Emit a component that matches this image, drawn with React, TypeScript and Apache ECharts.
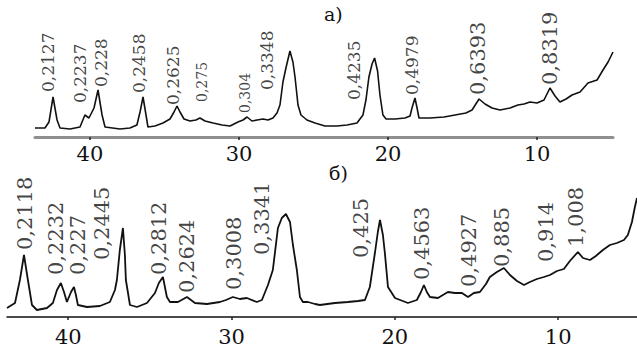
import React, { useEffect, useRef } from "react";
import * as echarts from "echarts";

// ---------- data: panel а) ----------
const patternA: [number, number][] = [
  [43.69, 9], [43.02, 9], [42.75, 15], [42.48, 40], [42.21, 17], [42.01, 9], [41.34, 8], [40.67, 10],
  [40.34, 22], [40.07, 19], [39.73, 29], [39.46, 47], [39.19, 22], [38.99, 10], [37.99, 8], [37.32, 9],
  [36.85, 12], [36.64, 25], [36.44, 40], [36.24, 22], [36.11, 10], [35.64, 11], [35.1, 14], [34.63, 18],
  [34.36, 25], [34.16, 31], [33.96, 25], [33.69, 18], [33.29, 16], [32.89, 17], [32.62, 19], [32.28, 16],
  [31.74, 14], [31.14, 12], [30.6, 11], [30.07, 15], [29.73, 17], [29.46, 20], [29.13, 16], [28.79, 17],
  [28.39, 18], [28.05, 17], [27.72, 19], [27.45, 24], [27.25, 32], [27.05, 55], [26.85, 69], [26.58, 86],
  [26.38, 75], [26.24, 60], [26.04, 32], [25.84, 22], [25.44, 17], [24.9, 14], [24.23, 11], [23.42, 11],
  [22.75, 12], [22.08, 14], [21.68, 22], [21.48, 37], [21.28, 60], [21.07, 73], [20.9, 79], [20.7, 66],
  [20.54, 42], [20.34, 22], [20.13, 18], [19.53, 18], [18.86, 19], [18.52, 21], [18.39, 29], [18.19, 39],
  [18.05, 29], [17.92, 19], [17.18, 19], [16.24, 20], [15.5, 22], [14.77, 24], [14.36, 27], [13.89, 38],
  [13.49, 33], [13.02, 29], [12.48, 27], [11.81, 29], [11.28, 32], [10.87, 33], [10.47, 35], [10.0, 34],
  [9.53, 37], [9.13, 49], [8.79, 41], [8.46, 35], [8.05, 38], [7.65, 42], [7.11, 45], [6.58, 54],
  [5.97, 57], [5.57, 67], [5.23, 75], [4.9, 85],
];
const peakNamesA = ["0,2127", "0,2237", "0,228", "0,2458", "0,2625", "0,275", "0,304", "0,3348", "0,4235", "0,4979", "0,6393", "0,8319"];
const peakAnchorsA: [number, number][] = [
  [42.82, 45], [40.67, 34], [39.26, 50], [36.71, 44], [34.43, 32], [32.48, 35], [29.6, 24], [28.12, 47],
  [22.28, 37], [18.39, 42], [13.96, 42], [9.13, 52],
];

// ---------- data: panel б) ----------
const patternB: [number, number][] = [
  [43.75, 9], [43.26, 14], [42.96, 37], [42.71, 62], [42.47, 37], [42.22, 12], [41.92, 7], [41.3, 9],
  [40.94, 14], [40.69, 27], [40.45, 34], [40.26, 25], [40.08, 15], [39.83, 25], [39.65, 30], [39.53, 22],
  [39.41, 12], [38.85, 10], [38.06, 11], [37.45, 15], [37.14, 27], [37.02, 37], [36.84, 67], [36.65, 89],
  [36.53, 62], [36.47, 37], [36.22, 12], [35.79, 10], [35.18, 14], [34.69, 24], [34.45, 34], [34.2, 40],
  [33.96, 20], [33.77, 15], [33.28, 15], [32.73, 20], [32.24, 14], [31.51, 13], [30.71, 15], [30.34, 17],
  [29.92, 20], [29.49, 18], [29.06, 19], [28.45, 15], [28.14, 17], [27.77, 32], [27.47, 47], [27.16, 89],
  [26.92, 99], [26.67, 103], [26.42, 95], [26.24, 72], [26.0, 47], [25.81, 20], [25.63, 15], [25.32, 15],
  [24.89, 13], [24.59, 12], [23.67, 14], [22.87, 15], [22.26, 16], [21.83, 17], [21.53, 30], [21.22, 64],
  [21.04, 85], [20.91, 97], [20.73, 82], [20.61, 64], [20.42, 30], [19.99, 19], [19.2, 14], [18.65, 17],
  [18.4, 25], [18.22, 32], [18.04, 25], [17.85, 20], [17.36, 19], [16.75, 25], [16.32, 24], [15.89, 24],
  [15.52, 20], [15.16, 24], [14.79, 25], [14.42, 33], [14.18, 40], [13.75, 45], [13.32, 49], [12.95, 42],
  [12.52, 36], [12.09, 32], [11.73, 35], [11.3, 38], [10.87, 40], [10.5, 42], [10.07, 46], [9.65, 48],
  [9.28, 56], [8.79, 65], [8.48, 59], [8.05, 57], [7.69, 61], [7.26, 67], [6.83, 72], [6.4, 74],
  [5.97, 77], [5.73, 82], [5.48, 95], [5.3, 110], [5.17, 119],
];
const peakNamesB = ["0,2118", "0,2232", "0,227", "0,2445", "0,2812", "0,2624", "0,3008", "0,3341", "0,425", "0,4563", "0,4927", "0,885", "0,914", "1,008"];
const peakAnchorsB: [number, number][] = [
  [42.65, 67], [40.75, 42], [39.41, 42], [37.94, 57], [34.45, 42], [32.73, 24], [29.85, 27], [28.14, 62],
  [22.08, 59], [18.34, 37], [15.46, 30], [13.44, 50], [10.75, 55], [8.91, 70],
];

const tickValues = [40, 30, 20, 10];

// ---------- styling ----------
const SERIF = "DejaVu Serif";
const labelSizesA = [17, 17, 17, 17, 17, 14, 14, 17, 17, 17, 21, 21];
const LABEL_SIZE_B = 21;

export default function App() {
  const ref = useRef<HTMLDivElement>(null);

  useEffect(() => {
    if (!ref.current) return;
    const chart = echarts.init(ref.current, null, { renderer: "svg" });

    const labelSeries = (names: string[], anchors: [number, number][], sizes: number[], idx: number) => ({
      type: "scatter",
      xAxisIndex: idx,
      yAxisIndex: idx,
      symbolSize: 0,
      silent: true,
      z: 5,
      data: names.map((n, i) => ({
        name: n,
        value: anchors[i],
        label: { fontSize: sizes[i], fontFamily: SERIF },
      })),
      label: {
        show: true,
        position: "inside",
        formatter: "{b}",
        rotate: 90,
        align: "left",
        verticalAlign: "middle",
        color: "#111",
        fontFamily: SERIF,
      },
      emphasis: { disabled: true },
    });

    const xAxisBase = (min: number, max: number, idx: number, lineColor: string, lineWidth: number, margin: number) => ({
      type: "value",
      gridIndex: idx,
      inverse: true,
      min,
      max,
      axisLine: { show: true, lineStyle: { color: lineColor, width: lineWidth } },
      axisTick: { show: true, customValues: tickValues, length: 3, lineStyle: { color: "#222", width: 1.5 } },
      axisLabel: {
        show: true,
        customValues: tickValues,
        margin,
        color: "#111",
        fontSize: 21,
        fontFamily: SERIF,
      },
      splitLine: { show: false },
    });

    chart.setOption({
      animation: false,
      textStyle: { fontFamily: SERIF },
      grid: [
        { left: 35, width: 578, top: 47, height: 90 },
        { left: 7, width: 630, top: 196, height: 121 },
      ],
      xAxis: [
        xAxisBase(4.9, 43.69, 0, "#8f8f8f", 3, 6),
        xAxisBase(5.17, 43.75, 1, "#111", 1.5, 9),
      ],
      yAxis: [
        { type: "value", gridIndex: 0, min: 0, max: 90, show: false },
        { type: "value", gridIndex: 1, min: 0, max: 121, show: false },
      ],
      graphic: [
        { type: "text", left: 324, top: 4, style: { text: "а)", fontSize: 19, fontFamily: SERIF, fill: "#111" } },
        { type: "text", left: 329, top: 163, style: { text: "б)", fontSize: 19, fontFamily: SERIF, fill: "#111" } },
      ],
      series: [
        {
          type: "line",
          xAxisIndex: 0,
          yAxisIndex: 0,
          data: patternA,
          showSymbol: false,
          lineStyle: { color: "#111", width: 1.6 },
          silent: true,
          z: 3,
        },
        {
          type: "line",
          xAxisIndex: 1,
          yAxisIndex: 1,
          data: patternB,
          showSymbol: false,
          lineStyle: { color: "#111", width: 1.8 },
          silent: true,
          z: 3,
        },
        labelSeries(peakNamesA, peakAnchorsA, labelSizesA, 0),
        labelSeries(peakNamesB, peakAnchorsB, peakNamesB.map(() => LABEL_SIZE_B), 1),
      ],
    });

    return () => chart.dispose();
  }, []);

  return (
    <div
      ref={ref}
      style={{ position: "absolute", left: 0, top: 0, width: 637, height: 348, background: "#fff" }}
    />
  );
}
